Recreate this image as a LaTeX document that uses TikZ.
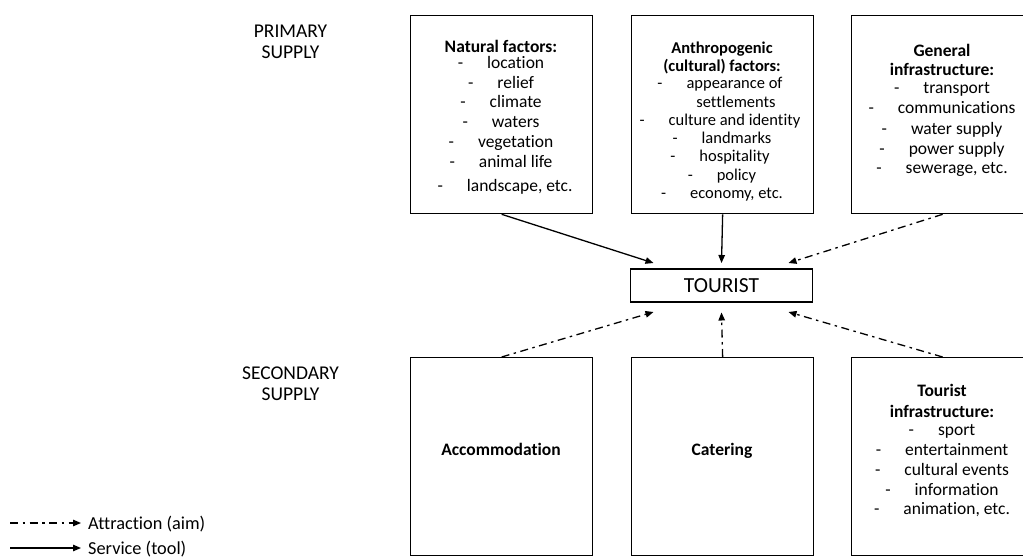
\documentclass[tikz,border=0pt]{standalone}
\usepackage{fontspec}
\setmainfont[Ligatures={NoCommon}]{Carlito}
\usetikzlibrary{arrows.meta}
\newcommand\itm[1]{-\hspace{24pt}#1}
\newcommand\itma[1]{-\hspace{24pt}#1}
\begin{document}
\begin{tikzpicture}[x=1pt,y=-1pt,
  box/.style={draw, line width=1.3pt, inner sep=0pt, anchor=north west, minimum width=182pt, minimum height=198pt},
  tbox/.style={draw, line width=1.3pt, inner sep=0pt, minimum width=182pt, minimum height=33pt, font=\fontsize{21.5}{23}\selectfont},
  t/.style={anchor=base, inner sep=0pt, font=\fontsize{17.5}{20}\selectfont},
  tl/.style={anchor=base, inner sep=0pt, font=\fontsize{19.5}{21}\selectfont},
  tg/.style={anchor=base west, inner sep=0pt, font=\fontsize{18.3}{20}\selectfont},
  tb/.style={anchor=base, inner sep=0pt, font=\bfseries\fontsize{17.5}{20}\selectfont},
  ta/.style={anchor=base, inner sep=0pt, font=\fontsize{16.5}{19}\selectfont},
  tab/.style={anchor=base, inner sep=0pt, font=\bfseries\fontsize{16.5}{19}\selectfont},
  service/.style={line width=1.3pt, -{Triangle[length=8pt,width=6.5pt]}},
  attraction/.style={line width=1.3pt, dash pattern=on 8pt off 4.5pt on 2.5pt off 4.5pt, -{Triangle[length=8pt,width=6.5pt]}},
]
\useasboundingbox (0,0) rectangle (1023,559);
\clip (0,0) rectangle (1023,559);

% side labels
\node[tl] (p1) at (290.5,37.5) {PRIMARY};
\node[tl] (p2) at (290.5,59) {SUPPLY};
\node[tl] (s1) at (290.5,379) {SECONDARY};
\node[tl] (s2) at (290.5,400.5) {SUPPLY};

% boxes
\node[box] (nat) at (410,15) {};
\node[box] (ant) at (631,15) {};
\node[box] (gen) at (851,15) {};
\node[box] (acc) at (410,357) {};
\node[box] (cat) at (631,357) {};
\node[box] (tin) at (851,357) {};
\node[tbox] (tour) at (721.5,285.5) {TOURIST};

% natural factors
\node[tb] (n0) at (501,52.5) {Natural factors:};
\node[t] (n1) at (501,68.5) {\itm{location}};
\node[t] (n2) at (501,89) {\itm{relief}};
\node[t] (n3) at (501,108) {\itm{climate}};
\node[t] (n4) at (501,128) {\itm{waters}};
\node[t] (n5) at (501,148) {\itm{vegetation}};
\node[t] (n6) at (501,167.5) {\itm{animal life}};
\node[t] (n7) at (505,191.5) {\itm{landscape, etc.}};

% anthropogenic
\node[tab] (a0) at (722,54) {Anthropogenic};
\node[tab] (a1) at (722,71.5) {(cultural) factors:};
\node[ta] (a2) at (720,88.5) {\itma{appearance of}};
\node[ta] (a3) at (736,107.5) {settlements};
\node[ta] (a4) at (720,126) {\itma{culture and identity}};
\node[ta] (a5) at (722,144) {\itma{landmarks}};
\node[ta] (a6) at (720,162) {\itma{hospitality}};
\node[ta] (a7) at (722,180.5) {\itma{policy}};
\node[ta] (a8) at (722,198) {\itma{economy, etc.}};

% general infrastructure
\node[tb] (g0) at (942,56.5) {General};
\node[tb] (g1) at (942,76) {infrastructure:};
\node[t] (g2) at (942,94) {\itm{transport}};
\node[t] (g3) at (942,114) {\itm{communications}};
\node[t] (g4) at (942,134.5) {\itm{water supply}};
\node[t] (g5) at (942,154) {\itm{power supply}};
\node[t] (g6) at (942,173) {\itm{sewerage, etc.}};

% secondary
\node[tb] (acct) at (501,455) {Accommodation};
\node[tb] (catt) at (722,455) {Catering};

\node[tb] (i0) at (942,396.5) {Tourist};
\node[tb] (i1) at (942,417.5) {infrastructure:};
\node[t] (i2) at (942,435) {\itm{sport}};
\node[t] (i3) at (942,455) {\itm{entertainment}};
\node[t] (i4) at (942,475) {\itm{cultural events}};
\node[t] (i5) at (942,495) {\itm{information}};
\node[t] (i6) at (942,514) {\itm{animation, etc.}};

% arrow end points near TOURIST
\coordinate (e1) at (653.5,263);
\coordinate (e2) at (721.5,263);
\coordinate (e3) at (788.5,263);
\coordinate (e4) at (653.5,312);
\coordinate (e5) at (721.5,312.5);
\coordinate (e6) at (788.5,312);

\draw[service] (nat.south) -- (e1);
\draw[service] (ant.south) -- (e2);
\draw[attraction] (gen.south) -- (e3);
\draw[attraction] (acc.north) -- (e4);
\draw[attraction] (cat.north) -- (e5);
\draw[attraction] (tin.north) -- (e6);

% legend
\coordinate (l1a) at (10,523);
\coordinate (l1b) at (81,523);
\coordinate (l2a) at (10,548);
\coordinate (l2b) at (81,548);
\draw[attraction] (l1a) -- (l1b);
\draw[service] (l2a) -- (l2b);
\node[tg] (lt1) at (88,529) {Attraction (aim)};
\node[tg] (lt2) at (88,554) {Service (tool)};
\end{tikzpicture}
\end{document}
